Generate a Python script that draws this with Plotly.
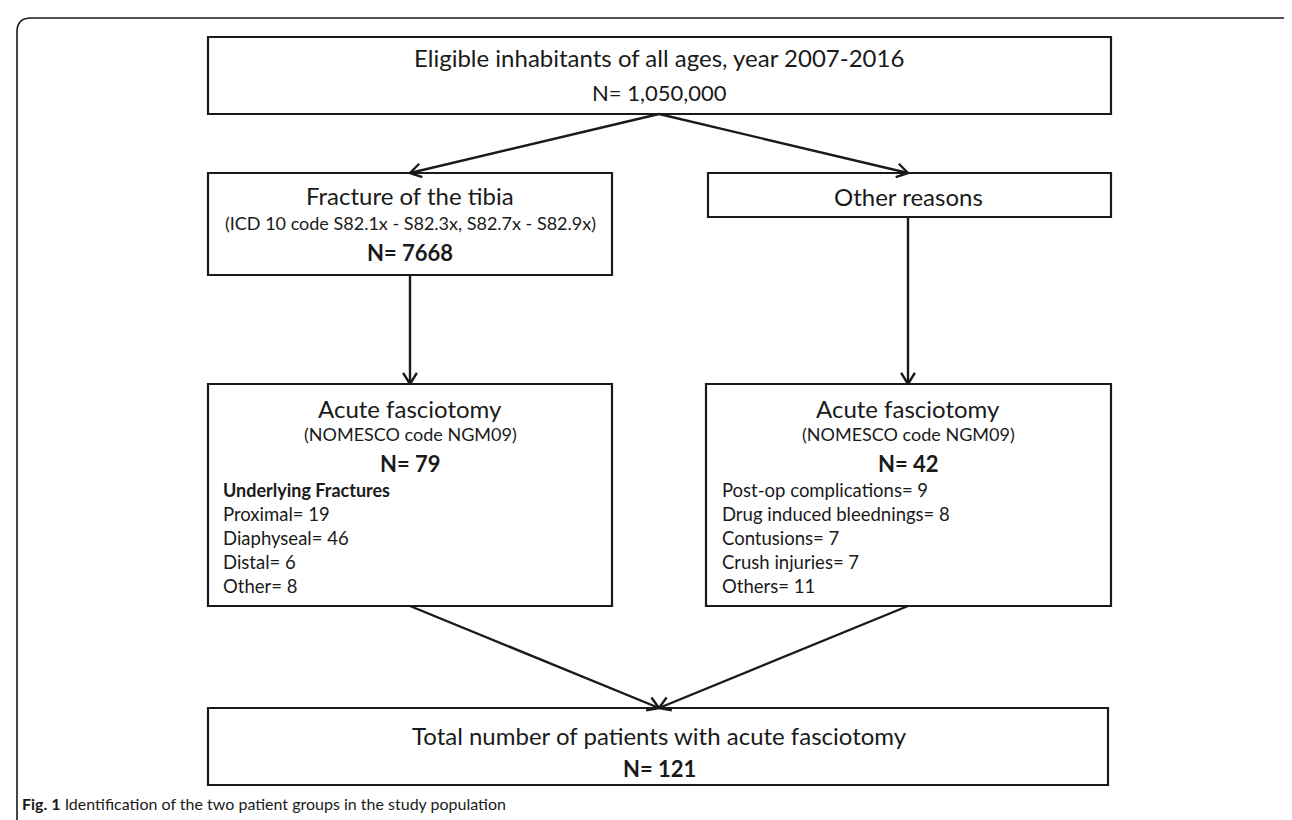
import numpy as np
import plotly.graph_objects as go

W, H = 1292, 820

# ---- data ----
population_label = "Eligible inhabitants of all ages, year 2007-2016"
population_n = "1,050,000"
fracture_label = "Fracture of the tibia"
fracture_code = "(ICD 10 code S82.1x - S82.3x, S82.7x - S82.9x)"
fracture_n = 7668
other_label = "Other reasons"
fasciotomy_label = "Acute fasciotomy"
fasciotomy_code = "(NOMESCO code NGM09)"
fasciotomy_fracture_n = 79
fasciotomy_other_n = 42
fracture_types = ["Proximal", "Diaphyseal", "Distal", "Other"]
fracture_counts = [19, 46, 6, 8]
other_causes = ["Post-op complications", "Drug induced bleednings", "Contusions", "Crush injuries", "Others"]
other_counts = [9, 8, 7, 7, 11]
total_label = "Total number of patients with acute fasciotomy"
total_n = 121
caption_bold = "Fig. 1"
caption_text = "Identification of the two patient groups in the study population"

FONT = "Lato"
INK = "#1a1a1a"

fig = go.Figure()
shapes = []
annots = []


def box(x0, y0, x1, y1, w=2.2):
    shapes.append(dict(type="rect", xref="x", yref="y", x0=x0, y0=y0, x1=x1, y1=y1,
                       line=dict(color=INK, width=w), fillcolor="white", layer="below"))


def text(x, y, s, size, bold=False, anchor="center"):
    if bold:
        s = "<b>" + s + "</b>"
    annots.append(dict(x=x, y=y, xref="x", yref="y", text=s, showarrow=False,
                       xanchor=anchor, yanchor="middle",
                       font=dict(family=FONT, size=size, color=INK)))


def arrow(p0, p1, head=13, ang=32):
    p0, p1 = np.array(p0, float), np.array(p1, float)
    d = (p0 - p1) / np.linalg.norm(p0 - p1)
    xs, ys = [p0[0], p1[0], None], [p0[1], p1[1], None]
    for s in (1, -1):
        a = np.radians(ang) * s
        r = np.array([[np.cos(a), -np.sin(a)], [np.sin(a), np.cos(a)]]) @ d
        q = p1 + r * head
        xs += [p1[0], q[0], None]
        ys += [p1[1], q[1], None]
    fig.add_trace(go.Scatter(x=xs, y=ys, mode="lines", hoverinfo="skip",
                             line=dict(color=INK, width=2.4), showlegend=False))


# outer frame with rounded top corners
shapes.append(dict(type="path", xref="x", yref="y",
                   path="M 9 830 L 9 24 Q 9 10 23 10 L 1276 10 Q 1290 10 1290 24 L 1290 830",
                   line=dict(color=INK, width=1.6)))

# boxes
box(200, 29, 1103, 106)
box(200, 165, 604, 267)
box(700, 165, 1103, 209)
box(200, 376, 604, 598)
box(698, 376, 1103, 598)
box(200, 700, 1100, 777)

# arrows
arrow((651, 106), (402, 165))
arrow((651, 106), (900, 165))
arrow((402, 267), (402, 376))
arrow((900, 209), (900, 376))
arrow((402, 598), (651, 700))
arrow((900, 598), (651, 700))

# texts
text(651, 49, population_label, 24)
text(651, 84, "N= " + population_n, 22)

text(402, 187, fracture_label, 24)
text(402, 215, fracture_code, 18)
text(402, 244, f"N= {fracture_n}", 22, bold=True)

text(900, 188, other_label, 24)

for cx, n in ((402, fasciotomy_fracture_n), (900, fasciotomy_other_n)):
    text(cx, 400, fasciotomy_label, 24)
    text(cx, 426, fasciotomy_code, 18)
    text(cx, 455, f"N= {n}", 22, bold=True)

text(213, 482, "Underlying Fractures", 18, bold=True, anchor="left")
for i, (lab, c) in enumerate(zip(fracture_types, fracture_counts)):
    text(213, 506 + i * 24, f"{lab}= {c}", 18.5, anchor="left")
for i, (lab, c) in enumerate(zip(other_causes, other_counts)):
    text(712, 482 + i * 24, f"{lab}= {c}", 18.5, anchor="left")

text(651, 727, total_label, 24)
text(651, 760, f"N= {total_n}", 22, bold=True)

annots.append(dict(x=12, y=795, xref="x", yref="y", showarrow=False, xanchor="left", yanchor="middle",
                   text=f"<b>{caption_bold}</b> {caption_text}",
                   font=dict(family=FONT, size=16, color=INK)))

fig.update_layout(
    width=W, height=H, margin=dict(l=0, r=0, t=0, b=0),
    paper_bgcolor="white", plot_bgcolor="white",
    xaxis=dict(range=[0, W], visible=False, fixedrange=True),
    yaxis=dict(range=[H, 0], visible=False, fixedrange=True),
    shapes=shapes, annotations=annots, showlegend=False,
)

fig.write_html("out.html", config={"displayModeBar": False})
